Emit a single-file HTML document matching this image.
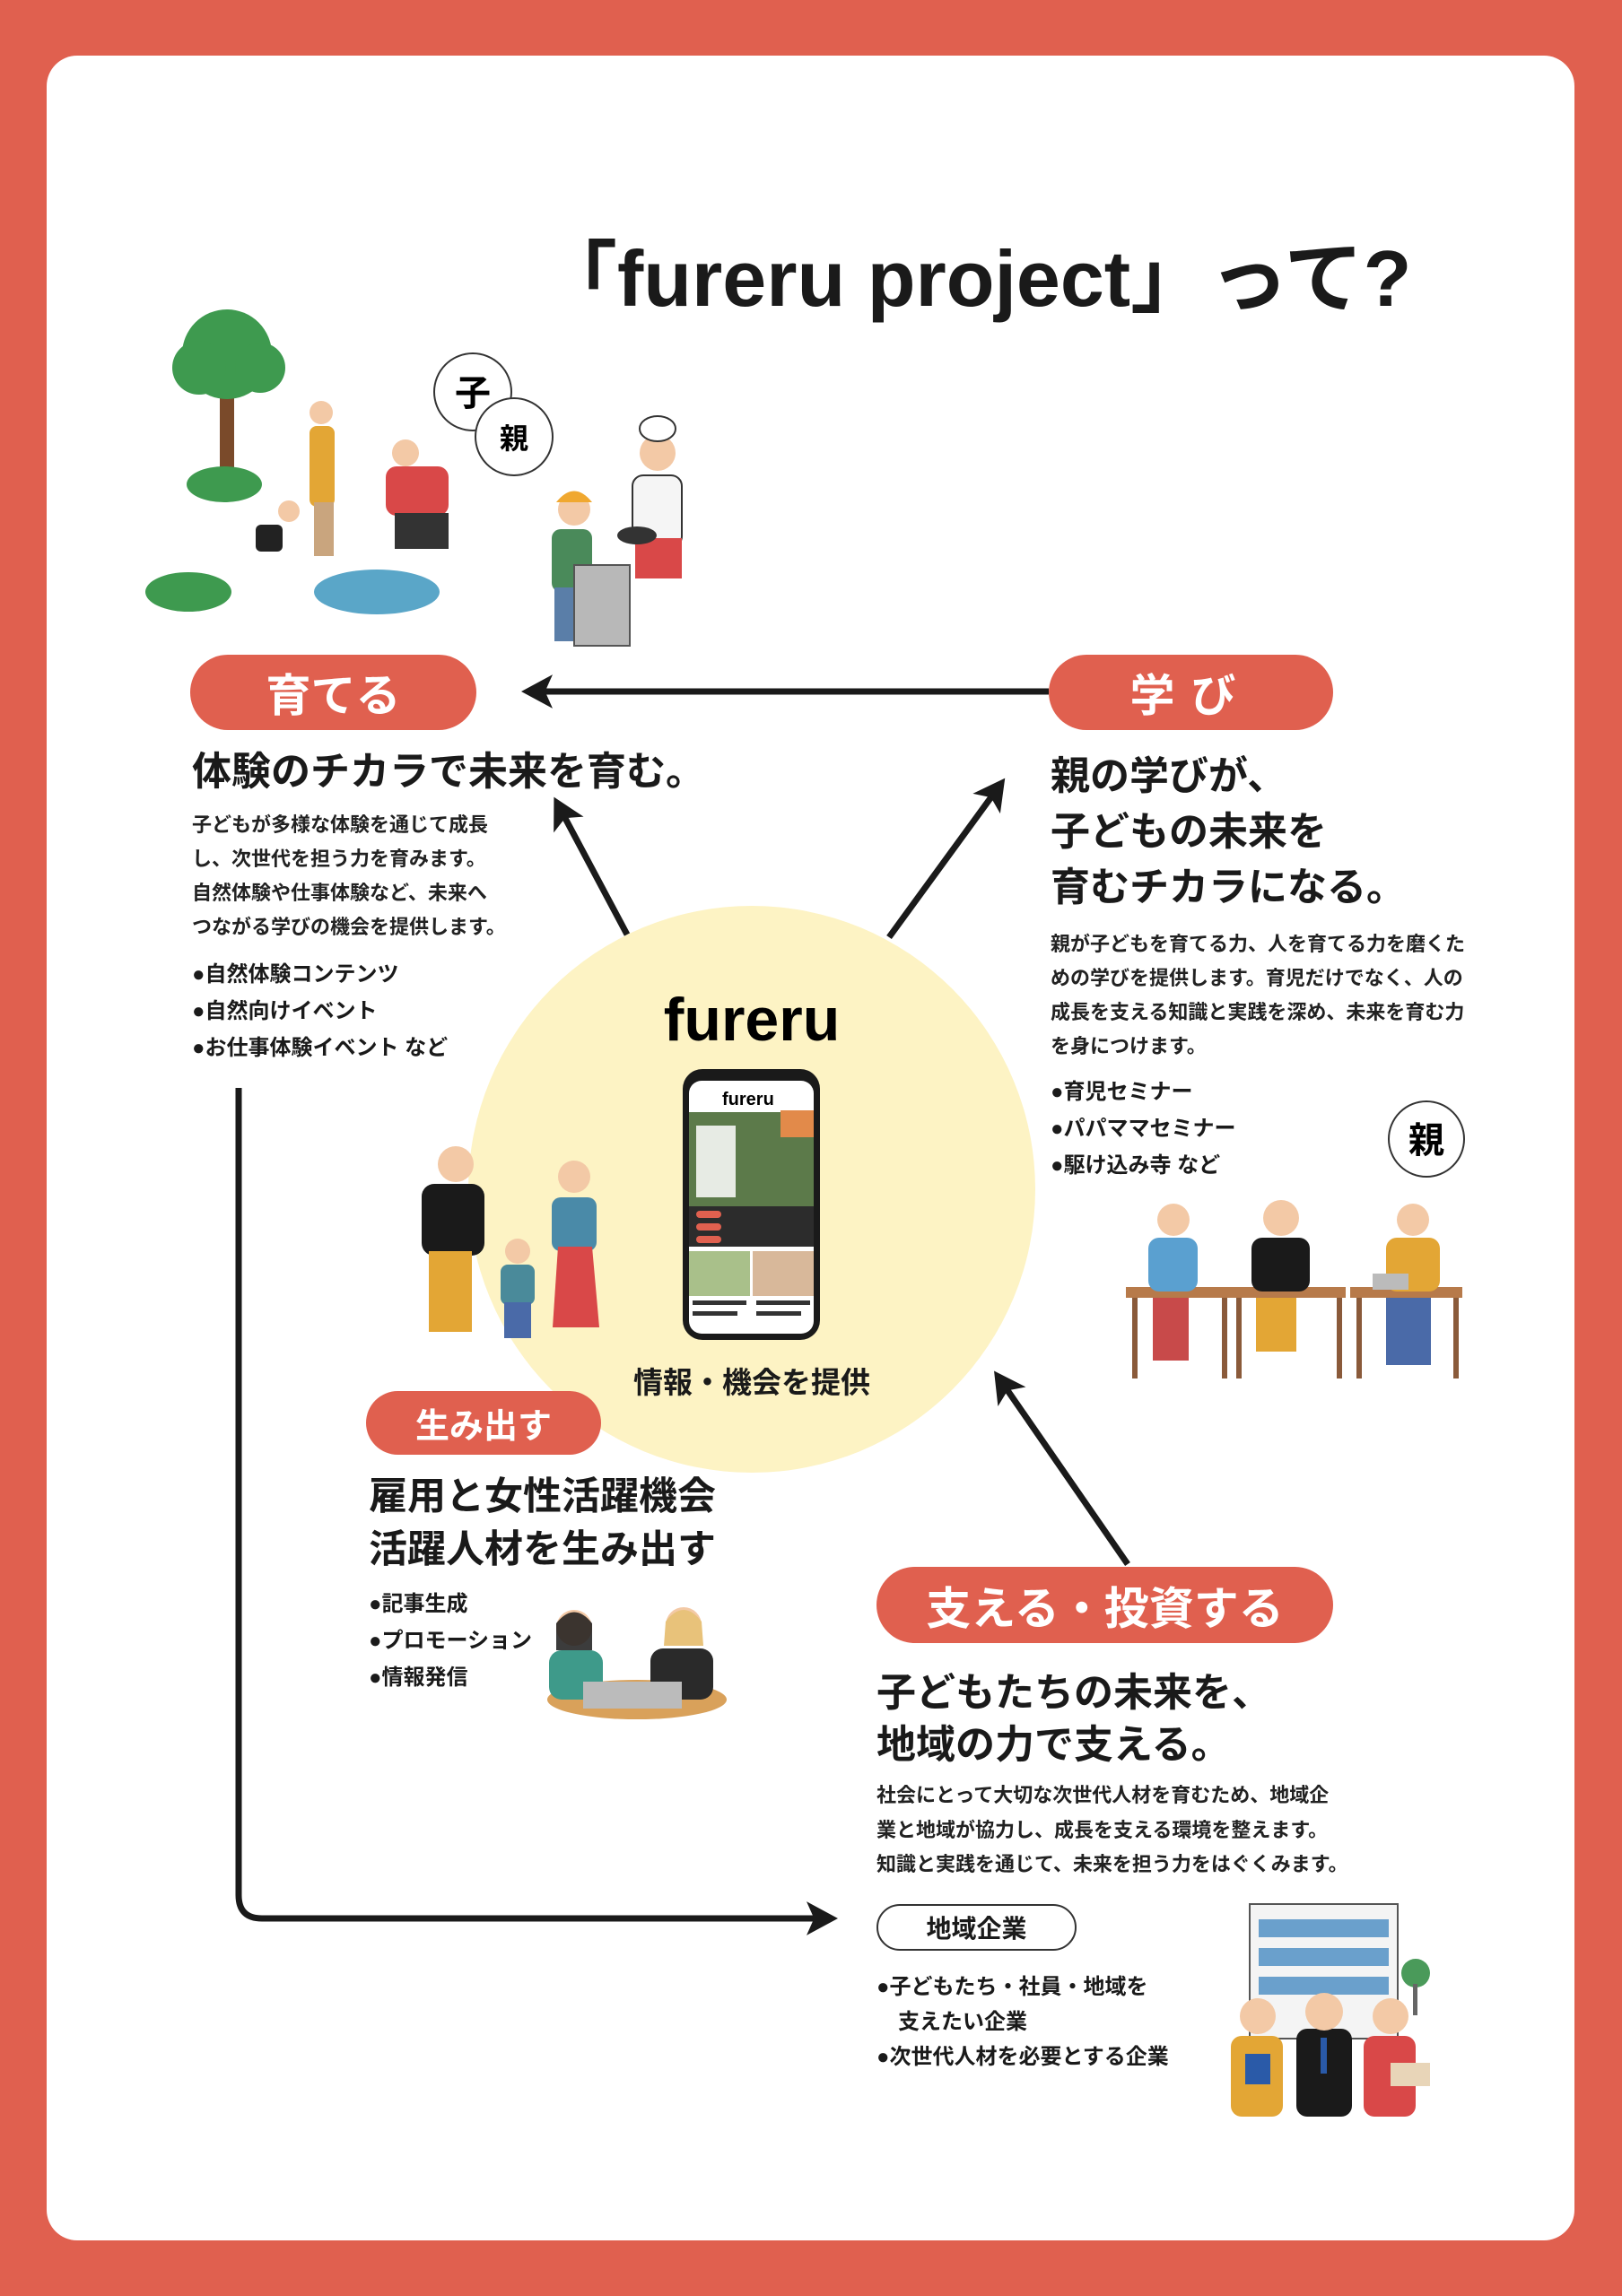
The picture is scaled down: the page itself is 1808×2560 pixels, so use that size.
<!DOCTYPE html>
<html><head><meta charset="utf-8"><style>
*{margin:0;padding:0;box-sizing:border-box}
body{width:1808px;height:2560px;background:#e0604f;position:relative;overflow:hidden;font-family:"Liberation Sans","Noto Sans CJK JP",sans-serif;color:#1a1a1a}
.card{position:absolute;left:52px;top:62px;width:1703px;height:2436px;background:#fff;border-radius:34px}
.a{position:absolute;white-space:nowrap}
.pill{position:absolute;background:#e0604f;color:#fff;border-radius:60px;font-weight:bold;display:flex;align-items:center;justify-content:center}
.h{font-weight:bold;font-size:44px;line-height:62px}
.b{font-size:22px;line-height:38px;font-weight:bold;color:#222}
.bl{font-size:24px;line-height:41px;font-weight:bold}
</style></head><body>
<div class="card"></div>
<div class="a" style="left:600px;top:240px;font-size:88px;font-weight:bold;letter-spacing:0px">「fureru project」って?</div>

<svg class="a" style="left:0;top:0" width="1808" height="2560">
<defs><marker id="m" markerWidth="6" markerHeight="6" refX="3" refY="3" orient="auto" markerUnits="strokeWidth"><path d="M0,0.3 L5,3 L0,5.7 L1.2,3z" fill="#1a1a1a"/></marker></defs>
<circle cx="838" cy="1326" r="316" fill="#fdf3c4"/>
<g stroke="#1a1a1a" stroke-width="7" fill="none">
<line x1="1169" y1="771" x2="595" y2="771" marker-end="url(#m)"/>
<line x1="699" y1="1042" x2="624" y2="901" marker-end="url(#m)"/>
<line x1="991" y1="1045" x2="1112" y2="879" marker-end="url(#m)"/>
<line x1="1257" y1="1744" x2="1116" y2="1540" marker-end="url(#m)"/>
<path d="M266 1213 V2113 Q266 2139 292 2139 H920" marker-end="url(#m)"/>
</g>
<rect x="245" y="420" width="16" height="110" fill="#7a4a2a"/>
<circle cx="253" cy="395" r="50" fill="#3e9a4f"/><circle cx="222" cy="410" r="30" fill="#3e9a4f"/><circle cx="290" cy="410" r="28" fill="#3e9a4f"/>
<ellipse cx="250" cy="540" rx="42" ry="20" fill="#3e9a4f"/>
<ellipse cx="210" cy="660" rx="48" ry="22" fill="#3e9a4f"/>
<ellipse cx="420" cy="660" rx="70" ry="25" fill="#5aa6c8"/>
<rect x="345" y="475" width="28" height="90" rx="8" fill="#e3a635"/><circle cx="358" cy="460" r="13" fill="#f3c9a6"/><rect x="350" y="560" width="22" height="60" fill="#c9a57e"/>
<rect x="430" y="520" width="70" height="55" rx="12" fill="#d94848"/><circle cx="452" cy="505" r="15" fill="#f3c9a6"/><rect x="440" y="572" width="60" height="40" fill="#333"/>
<rect x="285" y="585" width="30" height="30" rx="6" fill="#222"/><circle cx="322" cy="570" r="12" fill="#f3c9a6"/>
<circle cx="527" cy="437" r="43" fill="#fff" stroke="#333" stroke-width="2"/>
<circle cx="573" cy="487" r="43" fill="#fff" stroke="#333" stroke-width="2"/>
<text x="527" y="452" font-size="40" font-weight="bold" text-anchor="middle" font-family="Noto Sans CJK JP">子</text>
<text x="573" y="500" font-size="32" font-weight="bold" text-anchor="middle" font-family="Noto Sans CJK JP">親</text>
<rect x="615" y="590" width="45" height="70" rx="10" fill="#4a8a5a"/><circle cx="640" cy="568" r="18" fill="#f3c9a6"/><path d="M620 560 Q640 535 660 560z" fill="#f0a830"/>
<rect x="618" y="655" width="30" height="60" fill="#5a7ea8"/>
<rect x="640" y="630" width="62" height="90" fill="#b8b8b8" stroke="#555" stroke-width="2"/>
<rect x="705" y="530" width="55" height="80" rx="12" fill="#f5f5f5" stroke="#333" stroke-width="2"/><circle cx="733" cy="505" r="20" fill="#f3c9a6"/><ellipse cx="733" cy="478" rx="20" ry="14" fill="#fff" stroke="#333" stroke-width="2"/>
<rect x="708" y="600" width="52" height="45" fill="#d94848"/><ellipse cx="710" cy="597" rx="22" ry="10" fill="#333"/>
<text x="838" y="1160" font-size="68" font-weight="bold" text-anchor="middle" font-family="Liberation Sans">fureru</text>
<rect x="761" y="1192" width="153" height="302" rx="22" fill="#1a1a1a"/>
<rect x="768" y="1205" width="139" height="282" rx="14" fill="#fff"/>
<text x="805" y="1232" font-size="20" font-weight="bold" font-family="Liberation Sans">fureru</text>
<rect x="768" y="1240" width="139" height="150" fill="#5c7a4a"/>
<rect x="870" y="1238" width="37" height="30" fill="#e28a4a"/>
<rect x="776" y="1255" width="44" height="80" fill="#fff" opacity=".85"/>
<rect x="768" y="1345" width="139" height="45" fill="#2c2c2c"/>
<rect x="776" y="1350" width="28" height="8" rx="4" fill="#e0604f"/><rect x="776" y="1364" width="28" height="8" rx="4" fill="#e0604f"/><rect x="776" y="1378" width="28" height="8" rx="4" fill="#e0604f"/>
<rect x="768" y="1395" width="68" height="50" fill="#a9c08a"/><rect x="839" y="1395" width="68" height="50" fill="#d8b89a"/>
<rect x="772" y="1450" width="60" height="5" fill="#333"/><rect x="843" y="1450" width="60" height="5" fill="#333"/><rect x="772" y="1462" width="50" height="5" fill="#333"/><rect x="843" y="1462" width="50" height="5" fill="#333"/>
<rect x="470" y="1320" width="70" height="80" rx="14" fill="#1a1a1a"/><circle cx="508" cy="1298" r="20" fill="#f3c9a6"/><rect x="478" y="1395" width="48" height="90" fill="#e3a635"/>
<rect x="558" y="1410" width="38" height="45" rx="8" fill="#4a8a9a"/><circle cx="577" cy="1395" r="14" fill="#f3c9a6"/><rect x="562" y="1452" width="30" height="40" fill="#4a6aa8"/>
<rect x="615" y="1335" width="50" height="60" rx="10" fill="#4a8aa8"/><circle cx="640" cy="1312" r="18" fill="#f3c9a6"/><path d="M622 1390 H660 L668 1480 H616z" fill="#d94848"/>
<circle cx="1590" cy="1270" r="42" fill="#fff" stroke="#333" stroke-width="2"/>
<text x="1590" y="1285" font-size="40" font-weight="bold" text-anchor="middle" font-family="Noto Sans CJK JP">親</text>
<rect x="1255" y="1435" width="120" height="12" fill="#b77a4a"/><rect x="1262" y="1447" width="6" height="90" fill="#8a5a3a"/><rect x="1362" y="1447" width="6" height="90" fill="#8a5a3a"/>
<rect x="1370" y="1435" width="130" height="12" fill="#b77a4a"/><rect x="1378" y="1447" width="6" height="90" fill="#8a5a3a"/><rect x="1490" y="1447" width="6" height="90" fill="#8a5a3a"/>
<rect x="1505" y="1435" width="125" height="12" fill="#b77a4a"/><rect x="1512" y="1447" width="6" height="90" fill="#8a5a3a"/><rect x="1620" y="1447" width="6" height="90" fill="#8a5a3a"/>
<rect x="1280" y="1380" width="55" height="60" rx="12" fill="#5aa0d0"/><circle cx="1308" cy="1360" r="18" fill="#f3c9a6"/><rect x="1285" y="1447" width="40" height="70" fill="#c84a4a"/>
<rect x="1395" y="1380" width="65" height="60" rx="12" fill="#1a1a1a"/><circle cx="1428" cy="1358" r="20" fill="#f3c9a6"/><rect x="1400" y="1447" width="45" height="60" fill="#e3a635"/>
<rect x="1545" y="1380" width="60" height="60" rx="12" fill="#e3a635"/><circle cx="1575" cy="1360" r="18" fill="#f3c9a6"/><rect x="1530" y="1420" width="40" height="18" fill="#bbb"/><rect x="1545" y="1447" width="50" height="75" fill="#4a6aa8"/>
<ellipse cx="710" cy="1895" rx="100" ry="22" fill="#d9a15a"/>
<rect x="612" y="1840" width="60" height="55" rx="14" fill="#3e9a8a"/><circle cx="640" cy="1815" r="20" fill="#f3c9a6"/><path d="M620 1810 Q640 1785 660 1810 L660 1840 L620 1840z" fill="#1a1a1a" opacity=".85"/>
<rect x="725" y="1838" width="70" height="57" rx="14" fill="#2a2a2a"/><circle cx="762" cy="1812" r="20" fill="#f3c9a6"/><path d="M742 1808 Q762 1782 782 1808 L784 1835 L740 1835z" fill="#e8c27a"/>
<rect x="650" y="1875" width="55" height="30" fill="#bbb"/><rect x="705" y="1875" width="55" height="30" fill="#bbb"/>
<rect x="1393" y="2123" width="165" height="150" fill="#f4f4f4" stroke="#555" stroke-width="2"/>
<rect x="1403" y="2140" width="145" height="20" fill="#6aa0cc"/><rect x="1403" y="2172" width="145" height="20" fill="#6aa0cc"/><rect x="1403" y="2204" width="145" height="20" fill="#6aa0cc"/>
<circle cx="1578" cy="2200" r="16" fill="#4a9a5a"/><rect x="1575" y="2212" width="5" height="35" fill="#666"/>
<rect x="1372" y="2270" width="58" height="90" rx="12" fill="#e3a635"/><circle cx="1402" cy="2248" r="20" fill="#f3c9a6"/><rect x="1388" y="2290" width="28" height="34" fill="#2a5aa8"/>
<rect x="1445" y="2262" width="62" height="98" rx="12" fill="#1a1a1a"/><circle cx="1476" cy="2243" r="21" fill="#f3c9a6"/><rect x="1472" y="2272" width="7" height="40" fill="#2a5aa8"/>
<rect x="1520" y="2270" width="58" height="90" rx="12" fill="#d94848"/><circle cx="1550" cy="2248" r="20" fill="#f3c9a6"/><rect x="1550" y="2300" width="44" height="26" fill="#e8d5b8"/>
</svg>

<div class="pill" style="left:212px;top:730px;width:319px;height:84px;font-size:50px">育てる</div>
<div class="pill" style="left:1169px;top:730px;width:317px;height:84px;font-size:50px;letter-spacing:18px">学び</div>
<div class="pill" style="left:408px;top:1551px;width:262px;height:71px;font-size:38px">生み出す</div>
<div class="pill" style="left:977px;top:1747px;width:509px;height:85px;font-size:50px">支える・投資する</div>
<div class="a" style="left:977px;top:2123px;width:223px;height:52px;border:2px solid #333;border-radius:30px;font-size:28px;font-weight:bold;display:flex;align-items:center;justify-content:center">地域企業</div>

<div class="a h" style="left:214px;top:830px">体験のチカラで未来を育む。</div>
<div class="a b" style="left:214px;top:901px">子どもが多様な体験を通じて成長<br>し、次世代を担う力を育みます。<br>自然体験や仕事体験など、未来へ<br>つながる学びの機会を提供します。</div>
<div class="a bl" style="left:214px;top:1066px">●自然体験コンテンツ<br>●自然向けイベント<br>●お仕事体験イベント など</div>

<div class="a h" style="left:1171px;top:835px">親の学びが、<br>子どもの未来を<br>育むチカラになる。</div>
<div class="a b" style="left:1171px;top:1034px">親が子どもを育てる力、人を育てる力を磨くた<br>めの学びを提供します。育児だけでなく、人の<br>成長を支える知識と実践を深め、未来を育む力<br>を身につけます。</div>
<div class="a bl" style="left:1171px;top:1197px">●育児セミナー<br>●パパママセミナー<br>●駆け込み寺 など</div>

<div class="a" style="left:838px;top:1515px;transform:translateX(-50%);font-size:33px;font-weight:bold">情報・機会を提供</div>

<div class="a h" style="left:411px;top:1640px;font-size:43px;line-height:59px">雇用と女性活躍機会<br>活躍人材を生み出す</div>
<div class="a bl" style="left:411px;top:1768px;line-height:41px">●記事生成<br>●プロモーション<br>●情報発信</div>

<div class="a h" style="left:977px;top:1859px;font-size:44px;line-height:58px">子どもたちの未来を、<br>地域の力で支える。</div>
<div class="a b" style="left:977px;top:1983px;line-height:38.5px">社会にとって大切な次世代人材を育むため、地域企<br>業と地域が協力し、成長を支える環境を整えます。<br>知識と実践を通じて、未来を担う力をはぐくみます。</div>
<div class="a bl" style="left:977px;top:2196px;line-height:39px">●子どもたち・社員・地域を<br>　支えたい企業<br>●次世代人材を必要とする企業</div>
</body></html>
